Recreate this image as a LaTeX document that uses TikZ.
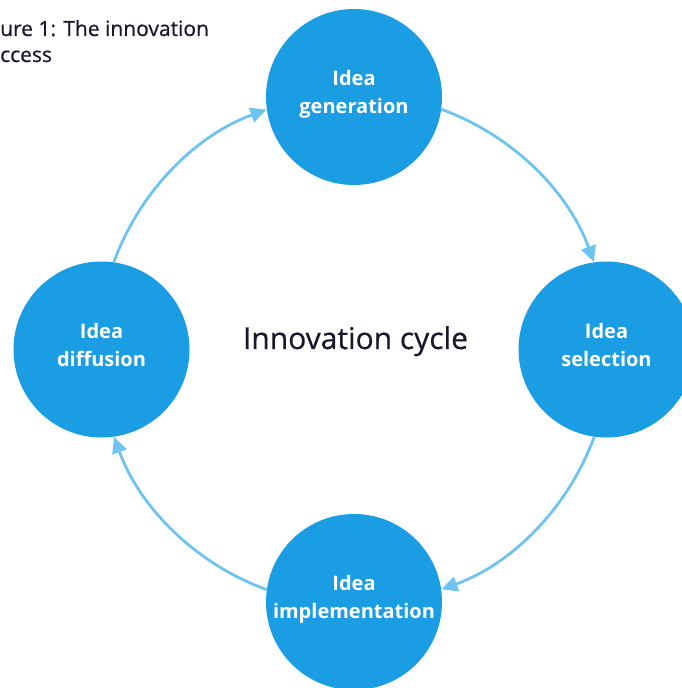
\documentclass[tikz,border=0pt]{standalone}
\usepackage{fontspec}
\setmainfont{Open Sans}
\newfontfamily\heavyish[FakeBold=0.6]{Open Sans}
\usetikzlibrary{arrows.meta}
\definecolor{circ}{RGB}{27,157,227}
\definecolor{arr}{RGB}{110,195,240}
\definecolor{ink}{RGB}{25,25,45}
\begin{document}
\begin{tikzpicture}[x=1pt,y=1pt,
  stage/.style={circle, fill=circ, minimum size=176pt, inner sep=0pt, outer sep=0pt,
    text=white, font=\fontsize{20}{28}\selectfont\bfseries, align=center},
  flow/.style={draw=arr, line width=2.8pt, -{Triangle[length=16pt,width=15pt]}},
  caption/.style={font=\heavyish\fontsize{21}{28}\selectfont, text=ink, inner sep=0pt, anchor=base west}]
\useasboundingbox (0,0) rectangle (682,688);
\node[stage] (gen) at (354,591) {\rule{0pt}{18pt}Idea\\generation\rule[-12pt]{0pt}{12pt}};
\node[stage] (sel) at (606.5,338.5) {\rule{0pt}{18pt}Idea\\selection\rule[-12pt]{0pt}{12pt}};
\node[stage] (imp) at (354,86) {\rule{0pt}{18pt}Idea\\implementation\rule[-12pt]{0pt}{12pt}};
\node[stage] (dif) at (101.5,338.5) {\rule{0pt}{18pt}Idea\\diffusion\rule[-12pt]{0pt}{12pt}};
\node[font=\heavyish\fontsize{30}{34}\selectfont, text=ink, anchor=base, inner sep=0pt] (cyc) at (355.5,339) {Innovation cycle};
\node[caption] (t1) at (0,652) {ure 1: The innovation};
\node[caption] (t2) at (0,626) {ccess};
\draw[flow] (gen.-8) arc[start angle=70, end angle=20, radius=255.6];
\draw[flow] (sel.-98) arc[start angle=-20, end angle=-70, radius=255.6];
\draw[flow] (imp.172) arc[start angle=-110, end angle=-160, radius=255.6];
\draw[flow] (dif.82) arc[start angle=160, end angle=110, radius=255.6];
\end{tikzpicture}
\end{document}
